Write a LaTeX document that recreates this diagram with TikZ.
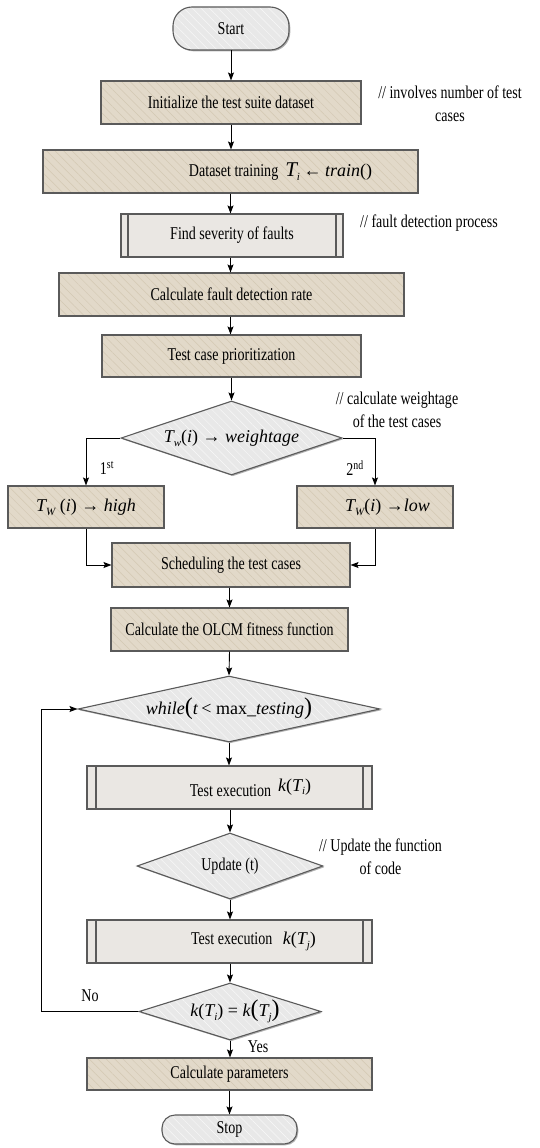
\documentclass[tikz,border=0pt]{standalone}
\usepackage{fontspec}
\setmainfont{Liberation Serif}[FakeStretch=0.78]
\newfontfamily\mfont{Liberation Serif}
\usetikzlibrary{shapes.geometric,arrows.meta,patterns.meta,shadows,calc}
\definecolor{tanfill}{HTML}{E2D9C9}
\definecolor{tanline}{HTML}{D3C8B3}
\definecolor{greyfill}{HTML}{EAE7E3}
\definecolor{dgrey}{HTML}{E8E8E8}
\definecolor{bordercol}{HTML}{5A5A5A}
\newcommand\mi[1]{{\fontsize{18}{22}\selectfont\mfont\itshape #1}}
\newcommand\mr[1]{{\fontsize{18}{22}\selectfont\mfont #1}}
\newcommand\bigpar[1]{{\fontsize{24}{24}\selectfont\mfont #1}}
\newcommand\lsub[1]{\raisebox{-0.45ex}{\fontsize{11}{11}\selectfont\mfont\itshape #1}}
\begin{document}
\begin{tikzpicture}[x=1pt,y=-1pt,
  font=\fontsize{18}{22}\selectfont,
  base/.style={draw=bordercol, line width=1.1pt, inner sep=0pt, minimum height=43pt, align=center,
    drop shadow={shadow xshift=1.3pt, shadow yshift=-1.3pt, opacity=0.3, fill=black}},
  tanbox/.style={base, rectangle, preaction={fill=tanfill},
    pattern={Lines[angle=-45,distance=6pt,line width=0.5pt]}, pattern color=tanline},
  greybox/.style={base, rectangle, fill=greyfill},
  procbox/.style={greybox, path picture={
    \draw[bordercol,line width=1.1pt] ([xshift=#1]path picture bounding box.north west) -- ([xshift=#1]path picture bounding box.south west);
    \draw[bordercol,line width=1.1pt] ([xshift=-#1]path picture bounding box.north east) -- ([xshift=-#1]path picture bounding box.south east);}},
  decision/.style={base, shape=diamond, preaction={fill=dgrey},
    pattern={Lines[angle=-45,distance=6pt,line width=0.5pt]}, pattern color=white!70!dgrey},
  terminal/.style={base, rectangle, preaction={fill=dgrey},
    pattern={Lines[angle=-45,distance=6pt,line width=0.5pt]}, pattern color=white!70!dgrey},
  note/.style={align=center, inner sep=0pt, font=\fontsize{18}{23}\selectfont},
  arr/.style={-{Stealth[length=8pt,width=6pt,inset=1.5pt]}, line width=0.9pt, black}
]
\useasboundingbox (0,0) rectangle (539,1148);

\node[terminal, rounded corners=19pt, minimum width=116pt, minimum height=43pt] (start) at (231,28.5) {Start};
\node[tanbox, minimum width=260pt] (init) at (231,102.5) {Initialize the test suite dataset};
\node[tanbox, minimum width=375pt] (train) at (230.5,171.5) {\hspace*{100pt}Dataset training\ \ {\fontsize{21}{22}\selectfont\mfont\itshape T}\lsub{i} \mr{←} \mi{train}\mr{()}};
\node[procbox=7pt, minimum width=222pt] (sev) at (232,235.5) {Find severity of faults};
\node[tanbox, minimum width=345pt] (fdr) at (231.5,294.5) {Calculate fault detection rate};
\node[tanbox, minimum width=259pt, minimum height=42pt] (prio) at (231.5,356) {Test case prioritization};
\node[decision, aspect=2.99, minimum width=221pt, minimum height=74pt] (d1) at (231.5,438) {\mi{T}\lsub{w}\mr{(}\mi{i}\mr{) → }\mi{weightage}};
\node[tanbox, minimum width=156pt, minimum height=42pt] (high) at (86,507) {\mi{T}\lsub{W}\mr{ (}\mi{i}\mr{) → }\mi{high}};
\node[tanbox, minimum width=156pt, minimum height=42pt] (low) at (375,507) {\hspace*{25pt}\mi{T}\lsub{W}\mr{(}\mi{i}\mr{) →}\mi{low}};
\node[tanbox, minimum width=238pt, minimum height=44pt] (sched) at (231,565) {Scheduling the test cases};
\node[tanbox, minimum width=237pt] (olcm) at (229.5,629.5) {Calculate the OLCM fitness function};
\node[decision, aspect=4.58, minimum width=302pt, minimum height=66pt] (d2) at (229,709) {\mi{while}\bigpar{(}\mi{t} \mr{< max\_}\mi{testing}\bigpar{)}};
\node[procbox=9pt, minimum width=285pt] (ex1) at (229.5,787.5) {\hspace*{42pt}Test execution\ \ \raisebox{5pt}{\mi{k}\mr{(}\mi{T}\lsub{i}\mr{)}}};
\node[decision, aspect=2.82, minimum width=186pt, minimum height=66pt] (d3) at (230,866) {Update (t)};
\node[procbox=9pt, minimum width=285pt] (ex2) at (229.5,941.5) {\hspace*{48pt}Test execution\ \ \ \mi{k}\mr{(}\mi{T}\lsub{j}\mr{)}};
\node[decision, aspect=3.19, minimum width=182pt, minimum height=57pt] (d4) at (230,1011.5) {\hspace*{10pt}\mi{k}\mr{(}\mi{T}\lsub{i}\mr{) = }\mi{k}\bigpar{(}\mi{T}\lsub{j}\bigpar{)}};
\node[tanbox, minimum width=285pt, minimum height=32pt] (par) at (229.5,1074) {Calculate parameters};
\node[terminal, rounded corners=13pt, minimum width=135pt, minimum height=29pt] (stop) at (229.5,1129.5) {Stop};

% comments
\node[note] (c1) at (450,104) {// involves number of test\\cases};
\node[note] (c2) at (429,223) {// fault detection process};
\node[note] (c3) at (397,410) {// calculate weightage\\of the test cases};
\node[note] (c4) at (380.5,856.5) {// Update the function\\of code};

% labels
\node[note] (l1) at (107,468) {1\textsuperscript{st}};
\node[note] (l2) at (355,468) {2\textsuperscript{nd}};
\node[note] (lno) at (90,996) {No};
\node[note] (lyes) at (258,1047) {Yes};

% connectors
\draw[arr] (start.south) -- (start.south |- init.north);
\draw[arr] (init.south) -- (init.south |- train.north);
\draw[arr] (train.south) -- (train.south |- sev.north);
\draw[arr] (sev.south -| train.south) -- (train.south |- fdr.north);
\draw[arr] (fdr.south -| train.south) -- (train.south |- prio.north);
\draw[arr] (prio.south) -- (d1.north);
\draw[arr] (d1.west) -| (high.north);
\draw[arr] (d1.east) -| (low.north);
\draw[arr] (high.south) |- (sched.west);
\draw[arr] (low.south) |- (sched.east);
\draw[arr] (sched.south -| olcm.north) -- (olcm.north);
\draw[arr] (olcm.south) -- (d2.north);
\draw[arr] (d2.south) -- (d2.south |- ex1.north);
\draw[arr] (ex1.south -| d3.north) -- (d3.north);
\draw[arr] (d3.south) -- (d3.south |- ex2.north);
\draw[arr] (ex2.south -| d4.north) -- (d4.north);
\draw[arr] (d4.south) -- (d4.south |- par.north);
\draw[arr] (par.south) -- (stop.north);
\coordinate (loopx) at (41,1011.5);
\draw[arr] (d4.west) -- (loopx) |- (d2.west);
\end{tikzpicture}
\end{document}
